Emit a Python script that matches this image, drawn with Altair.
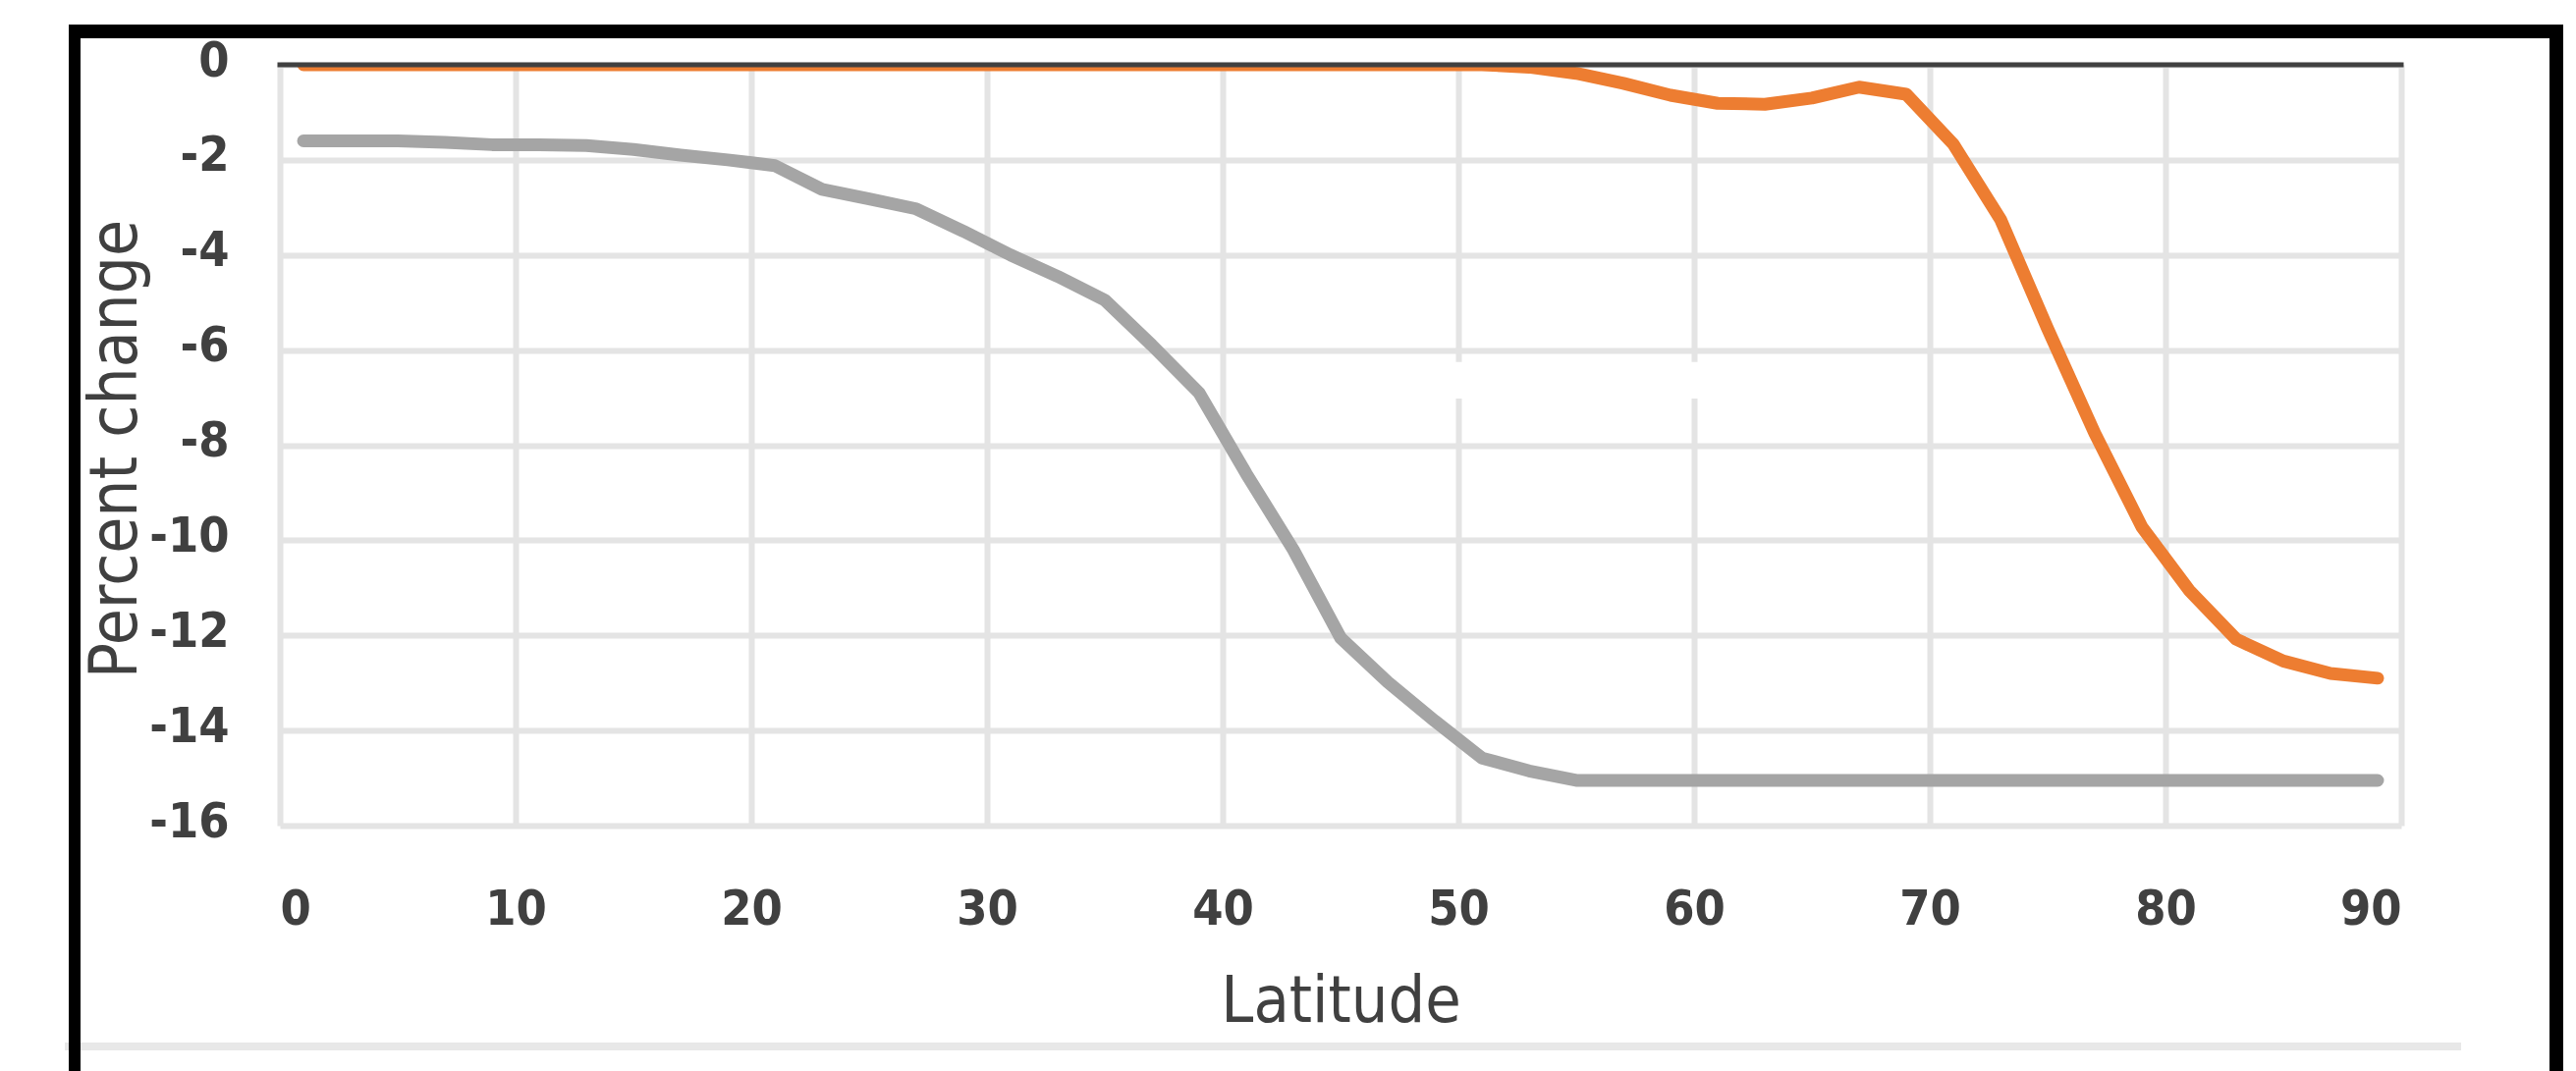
import altair as alt
import pandas as pd

# Latitude band centres (degrees)
latitude = list(range(1, 90, 2))

# Percent change for the two series, one value per latitude band
series_grey = [
    -1.60, -1.60, -1.60, -1.63, -1.68, -1.68, -1.70, -1.78, -1.90, -2.00,
    -2.12, -2.62, -2.82, -3.03, -3.50, -4.00, -4.45, -4.95, -5.90, -6.90,
    -8.60, -10.20, -12.05, -12.98, -13.80, -14.58, -14.85, -15.05, -15.05, -15.05,
    -15.05, -15.05, -15.05, -15.05, -15.05, -15.05, -15.05, -15.05, -15.05, -15.05,
    -15.05, -15.05, -15.05, -15.05, -15.05,
]
series_orange = [
    0.0, 0.0, 0.0, 0.0, 0.0, 0.0, 0.0, 0.0, 0.0, 0.0,
    0.0, 0.0, 0.0, 0.0, 0.0, 0.0, 0.0, 0.0, 0.0, 0.0,
    0.0, 0.0, 0.0, 0.0, 0.0, 0.0, -0.05, -0.18, -0.39, -0.64,
    -0.81, -0.83, -0.70, -0.47, -0.62, -1.67, -3.25, -5.55, -7.75, -9.72,
    -11.05, -12.08, -12.54, -12.80, -12.90,
]

series_names = ["grey", "orange"]
series_colors = ["#A5A5A5", "#ED7D31"]

x_ticks = list(range(0, 91, 10))
y_ticks = list(range(0, -17, -2))

# Blank patch sitting over the grid
patch_x = [49.5, 66.5]
patch_y = [-6.25, -7.02]

FONT = "DejaVu Sans Condensed, sans-serif"
TEXT = "#404040"

rows = []
for name, values in zip(series_names, [series_grey, series_orange]):
    for lat, v in zip(latitude, values):
        rows.append({"latitude": lat, "change": v, "series": name})
df = pd.DataFrame(rows)

x_scale = alt.Scale(domain=[0, 90], nice=False, zero=False)
y_scale = alt.Scale(domain=[-16, 0], nice=False, zero=False)

x_axis = alt.Axis(
    values=x_ticks, labelExpr="toString(datum.value)", title="Latitude",
    domain=False, ticks=False, grid=True, gridColor="#e4e4e4", gridWidth=6,
    labelFont=FONT, labelFontSize=50, labelFontWeight="bold", labelColor=TEXT,
    labelPadding=60,
    titleFont=FONT, titleFontSize=66, titleFontWeight="normal", titleColor=TEXT,
    titleY=199, titleBaseline="alphabetic",
)
y_axis = alt.Axis(
    values=y_ticks, labelExpr="toString(datum.value)", title="Percent change",
    domain=False, ticks=False, grid=True, gridColor="#e4e4e4", gridWidth=6,
    labelFont=FONT, labelFontSize=50, labelFontWeight="bold", labelColor=TEXT,
    labelPadding=52, labelOffset=-4,
    titleFont=FONT, titleFontSize=67, titleFontWeight="normal", titleColor=TEXT,
    titleAngle=270, titleX=-147, titleY=391, titleAlign="center", titleBaseline="alphabetic",
)

lines = alt.Chart(df).mark_line(
    strokeWidth=13, strokeCap="round", strokeJoin="round", clip=True
).encode(
    x=alt.X("latitude:Q", scale=x_scale, axis=x_axis),
    y=alt.Y("change:Q", scale=y_scale, axis=y_axis),
    color=alt.Color("series:N", scale=alt.Scale(domain=series_names, range=series_colors), legend=None),
    detail="series:N",
)

patch = alt.Chart(pd.DataFrame({
    "latitude": [patch_x[0]], "latitude_end": [patch_x[1]],
    "change": [patch_y[0]], "change_end": [patch_y[1]],
})).mark_rect(color="white").encode(
    x="latitude:Q", x2="latitude_end:Q", y="change:Q", y2="change_end:Q",
)

# Horizontal axis line crossing at zero
zero_line = alt.Chart(pd.DataFrame({
    "latitude": [0], "latitude_end": [90], "change": [0],
})).mark_rule(color="#404040", strokeWidth=5, strokeCap="square").encode(
    x="latitude:Q", x2="latitude_end:Q", y="change:Q",
)

one = pd.DataFrame({"k": [0]})
frame_top = alt.Chart(one).mark_rule(color="black", strokeWidth=14).encode(
    x=alt.value(-215), x2=alt.value(2325), y=alt.value(-34))
frame_left = alt.Chart(one).mark_rule(color="black", strokeWidth=12).encode(
    x=alt.value(-209), y=alt.value(-41), y2=alt.value(1030))
frame_right = alt.Chart(one).mark_rule(color="black", strokeWidth=14).encode(
    x=alt.value(2318), y=alt.value(-41), y2=alt.value(1030))
bottom_edge = alt.Chart(one).mark_rule(color="#e8e8e8", strokeWidth=8).encode(
    x=alt.value(-219), x2=alt.value(2221), y=alt.value(1000))

chart = alt.layer(
    bottom_edge, patch, lines, zero_line, frame_top, frame_left, frame_right
).properties(
    width=2160, height=775,
    autosize=alt.AutoSizeParams(type="none"),
    padding={"left": 285, "top": 66, "right": 178, "bottom": 250},
    background="white",
).configure_view(stroke=None)

chart.save("out.html", embed_options={"renderer": "svg", "actions": False})
